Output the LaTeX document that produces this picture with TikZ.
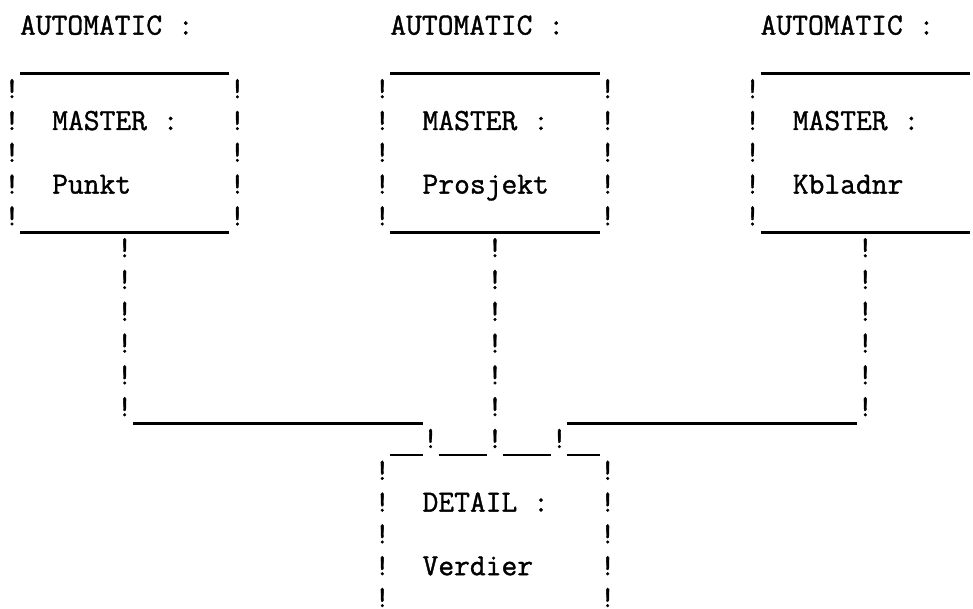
\documentclass[tikz,border=0pt]{standalone}
\usepackage{fontspec}
\newfontfamily\heavytt{Latin Modern Mono}[FakeBold=1.2]
\tikzset{
  ttxt/.style={font=\fontsize{15.33}{16}\selectfont\heavytt, inner sep=0pt, outer sep=0pt, anchor=base west},
  bang/.style={font=\fontsize{15.33}{16}\selectfont\heavytt, inner sep=0pt, outer sep=0pt, anchor=base},
  uline/.style={line width=1.4pt},
}
\newcommand\bangcol[4]{\foreach \rr in {#3,...,#4}{\node[bang] (#1-\rr) at (#2,\rr) {!};}}
\newcommand\uline[4]{\coordinate (#1-a) at (#3-0.5,#2+0.22);\coordinate (#1-b) at (#4+0.5,#2+0.22);\draw[uline] (#1-a) -- (#1-b);}
\begin{document}
\begin{tikzpicture}
\useasboundingbox (0,0) rectangle (486.5pt,-304.5pt);
\begin{scope}[shift={(6pt,-17.3pt)},x=8.05pt,y=-15.9pt]
% box 1
\node[ttxt] (auto1) at (0.5,0) {AUTOMATIC :};
\uline{top1}{1}{1}{13}
\bangcol{b1l}{0}{2}{6}
\bangcol{b1r}{14}{2}{6}
\node[ttxt] (m1) at (2.5,3) {MASTER :};
\node[ttxt] (k1) at (2.5,5) {Punkt};
\uline{bot1}{6}{1}{13}
% box 2
\node[ttxt] (auto2) at (23.5,0) {AUTOMATIC :};
\uline{top2}{1}{24}{36}
\bangcol{b2l}{23}{2}{6}
\bangcol{b2r}{37}{2}{6}
\node[ttxt] (m2) at (25.5,3) {MASTER :};
\node[ttxt] (k2) at (25.5,5) {Prosjekt};
\uline{bot2}{6}{24}{36}
% box 3
\node[ttxt] (auto3) at (46.5,0) {AUTOMATIC :};
\uline{top3}{1}{47}{59}
\bangcol{b3l}{46}{2}{6}
\node[ttxt] (m3) at (48.5,3) {MASTER :};
\node[ttxt] (k3) at (48.5,5) {Kbladnr};
\uline{bot3}{6}{47}{59}
% connectors
\bangcol{c1}{7}{7}{12}
\bangcol{c2}{30}{7}{13}
\bangcol{c3}{53}{7}{12}
\uline{h1}{12}{8}{25}
\uline{h3}{12}{35}{52}
% detail top
\uline{d1}{13}{24}{25}
\node[bang] (j1) at (26,13) {!};
\uline{d2}{13}{27}{29}
\uline{d3}{13}{31}{33}
\node[bang] (j3) at (34,13) {!};
\uline{d4}{13}{35}{36}
% detail box
\bangcol{dl}{23}{14}{18}
\bangcol{dr}{37}{14}{18}
\node[ttxt] (det) at (25.5,15) {DETAIL :};
\node[ttxt] (ver) at (25.5,17) {Verdier};
\end{scope}
\end{tikzpicture}
\end{document}
